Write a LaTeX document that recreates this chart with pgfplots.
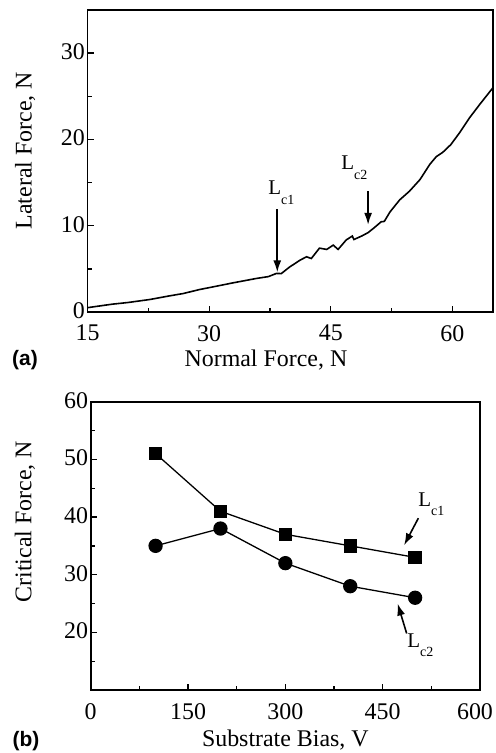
\documentclass[border=0pt]{standalone}
\usepackage{fontspec}
\setmainfont{Liberation Serif}
\newfontfamily\panelfont{Liberation Sans}
\usepackage{pgfplots}
\pgfplotsset{compat=1.18}
\usetikzlibrary{arrows.meta}

\newcommand{\Lc}[1]{L\raisebox{-1.0ex}{\fontsize{14}{14}\selectfont c#1}}

\pgfplotsset{
  panel/.style={
    scale only axis, anchor=south west,
    axis line style={line width=1.6bp},
    tick pos=left, tick align=inside,
    major tick length=6bp, minor tick length=4bp,
    every tick/.style={line width=1.3bp, black},
    /pgf/number format/assume math mode=true,
    tick label style={font=\fontsize{24}{28}\selectfont},
    yticklabel style={inner xsep=2.5bp, inner ysep=0bp, yshift=1.5bp},
    xticklabel style={inner sep=0bp, yshift=-13bp},
    label style={font=\fontsize{24}{28}\selectfont},
    clip=false,
  },
}

\begin{document}
\begin{tikzpicture}
\useasboundingbox (0,0) rectangle (496bp,753bp);

% (a) scratch trace
\begin{axis}[panel,
  at={(87.5bp,441bp)}, width=405.5bp, height=302bp,
  xmin=15, xmax=65, ymin=0, ymax=35,
  xtick={15,30,45,60}, minor xtick={22.5,37.5,52.5},
  ytick={0,10,20,30}, minor ytick={5,15,25},
  xlabel={Normal Force, N}, ylabel={Lateral Force, N},
  xlabel style={at={(axis description cs:0.44,-0.159)}, anchor=center},
  ylabel style={at={(axis description cs:-0.154,0.534)}, anchor=center},
]
\addplot[line width=1.6bp, black] coordinates {
  (15,0.5) (18,0.9) (20,1.1) (22.7,1.45) (25,1.85) (26.8,2.14)
  (28.85,2.61) (30.1,2.84) (32.96,3.38) (35.84,3.89) (37.3,4.1)
  (38.3,4.47) (38.9,4.45) (39.9,5.2) (41.2,6.0) (42.0,6.4) (42.6,6.2)
  (43.6,7.4) (44.5,7.25) (45.3,7.75) (45.9,7.25) (46.9,8.35)
  (47.65,8.8) (47.85,8.4) (48.8,8.8) (49.6,9.2) (50.4,9.8)
  (51.2,10.45) (51.6,10.5) (52.3,11.6) (53.5,13.0) (54.7,14.0)
  (56.0,15.35) (57.2,17.1) (58.0,18.0) (58.8,18.5) (59.8,19.4)
  (60.9,20.8) (62.1,22.5) (63.4,24.1) (65,26.0)
};
\draw[line width=1.6bp, -{Latex[length=12bp,width=8bp]}] (axis cs:38.4,11.9) -- (axis cs:38.4,4.6);
\draw[line width=1.6bp, -{Latex[length=12bp,width=8bp]}] (axis cs:49.6,14.0) -- (axis cs:49.6,10.1);
\node[font=\fontsize{21}{24}\selectfont] at (axis cs:38.9,13.8) {\Lc{1}};
\node[font=\fontsize{21}{24}\selectfont] at (axis cs:47.9,16.7) {\Lc{2}};
\end{axis}

% (b) critical loads
\begin{axis}[panel,
  at={(90.7bp,63bp)}, width=389.3bp, height=288.3bp,
  xmin=0, xmax=600, ymin=10, ymax=60,
  xtick={0,150,300,450,600}, minor xtick={75,225,375,525},
  xticklabels={0,150,300,450,{\kern-10bp 600}},
  ytick={20,30,40,50,60}, minor ytick={15,25,35,45,55},
  xlabel={Substrate Bias, V}, ylabel={Critical Force, N},
  xlabel style={at={(axis description cs:0.5,-0.173)}, anchor=center},
  ylabel style={at={(axis description cs:-0.169,0.584)}, anchor=center},
]
\addplot[line width=1.3bp, black, mark=square*, mark size=6bp,
  mark options={fill=black}] coordinates {
  (100,51) (200,41) (300,37) (400,35) (500,33)
};
\addplot[line width=1.3bp, black, mark=*, mark size=6.5bp,
  mark options={fill=black}] coordinates {
  (100,35) (200,38) (300,32) (400,28) (500,26)
};
\draw[line width=1.6bp, -{Latex[length=12bp,width=8bp]}] (axis cs:505,39.8) -- (axis cs:483,35.1);
\draw[line width=1.6bp, -{Latex[length=12bp,width=8bp]}] (axis cs:487,19.8) -- (axis cs:473,25.0);
\node[font=\fontsize{21}{24}\selectfont] at (axis cs:525,42.2) {\Lc{1}};
\node[font=\fontsize{21}{24}\selectfont] at (axis cs:508,17.8) {\Lc{2}};
\end{axis}

\node[font=\panelfont\bfseries\fontsize{21}{24}\selectfont] at (25bp,393bp) {(a)};
\node[font=\panelfont\bfseries\fontsize{21}{24}\selectfont] at (26bp,12bp) {(b)};
\end{tikzpicture}
\end{document}
